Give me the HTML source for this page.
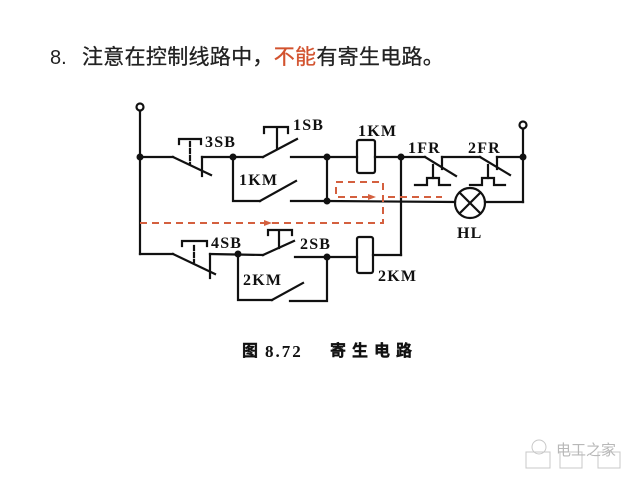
<!DOCTYPE html>
<html><head><meta charset="utf-8"><style>
html,body{margin:0;padding:0;background:#fff;}
svg{display:block;}
.lbl{font-family:"Liberation Serif",serif;font-weight:bold;font-size:16px;letter-spacing:1.2px;fill:#111;}
</style></head><body>
<svg width="640" height="480" viewBox="0 0 640 480" xmlns="http://www.w3.org/2000/svg">
<rect width="640" height="480" fill="#fff"/>
<!-- Title -->
<text x="50" y="64" font-family="Liberation Sans, sans-serif" font-size="20" fill="#222">8.</text>
<text x="82" y="64" font-family="Liberation Sans, 'Noto Sans CJK SC', sans-serif" font-size="21" letter-spacing="0.3" fill="#222" stroke="#222" stroke-width="0.3">注意在控制线路中，<tspan fill="#d2522e" stroke="#d2522e">不能</tspan>有寄生电路。</text>

<g stroke="#111" stroke-width="2.2" fill="none" stroke-linecap="square">
  <!-- left rail -->
  <circle cx="140" cy="107" r="3.5"/>
  <line x1="140" y1="111" x2="140" y2="254"/>
  <!-- row1 3SB NC -->
  <line x1="140" y1="157" x2="173" y2="157"/>
  <line x1="173" y1="157" x2="211" y2="175"/>
  <line x1="202" y1="157" x2="202" y2="176"/>
  <line x1="202" y1="157" x2="263" y2="157"/>
  <line x1="190" y1="142" x2="190" y2="164" stroke-dasharray="4 3"/>
  <polyline points="179,144 179,139 201,139 201,144"/>
  <!-- 1SB NO -->
  <line x1="263" y1="157" x2="297" y2="139"/>
  <line x1="277" y1="128" x2="277" y2="148"/>
  <polyline points="264,133 264,127 288,127 288,133"/>
  <line x1="291" y1="157" x2="357" y2="157"/>
  <!-- 1KM contact -->
  <polyline points="233,157 233,201 260,201"/>
  <line x1="260" y1="201" x2="296" y2="181"/>
  <line x1="291" y1="201" x2="327" y2="201"/>
  <line x1="327" y1="157" x2="327" y2="201"/>
  <!-- coil 1KM -->
  <rect x="357" y="140" width="18" height="33" rx="2"/>
  <line x1="375" y1="157" x2="425" y2="157"/>
  <!-- 1FR -->
  <line x1="425" y1="157" x2="456" y2="176"/>
  <line x1="442" y1="157" x2="442" y2="169"/>
  <line x1="442" y1="157" x2="480" y2="157"/>
  <polyline points="415,185 427,185 427,178 439,178 439,185 450,185"/>
  <line x1="433" y1="165" x2="433" y2="178"/>
  <!-- 2FR -->
  <line x1="480" y1="157" x2="510" y2="175"/>
  <line x1="497" y1="157" x2="497" y2="169"/>
  <line x1="497" y1="157" x2="523" y2="157"/>
  <polyline points="470,185 482,185 482,178 494,178 494,185 505,185"/>
  <line x1="488" y1="165" x2="488" y2="178"/>
  <!-- right rail -->
  <circle cx="523" cy="125" r="3.5"/>
  <line x1="523" y1="129" x2="523" y2="202"/>
  <!-- lamp row -->
  <line x1="327" y1="201" x2="455" y2="202"/>
  <circle cx="470" cy="203" r="15"/>
  <line x1="459.5" y1="192.5" x2="480.5" y2="213.5"/>
  <line x1="480.5" y1="192.5" x2="459.5" y2="213.5"/>
  <line x1="485" y1="202" x2="523" y2="202"/>
  <!-- middle vertical -->
  <line x1="401" y1="157" x2="401" y2="255"/>
  <line x1="373" y1="255" x2="401" y2="255"/>
  <!-- row2 4SB NC -->
  <line x1="140" y1="254" x2="173" y2="254"/>
  <line x1="173" y1="254" x2="215" y2="274"/>
  <line x1="210" y1="254" x2="210" y2="278"/>
  <line x1="210" y1="254" x2="263" y2="255"/>
  <line x1="194" y1="246" x2="194" y2="262" stroke-dasharray="4 3"/>
  <polyline points="182,246 182,241 207,241 207,246"/>
  <!-- 2SB NO -->
  <line x1="263" y1="255" x2="294" y2="241"/>
  <line x1="279" y1="231" x2="279" y2="248"/>
  <polyline points="268,235 268,230 292,230 292,235"/>
  <line x1="295" y1="257" x2="357" y2="257"/>
  <!-- 2KM contact -->
  <polyline points="238,254 238,300 272,300"/>
  <line x1="272" y1="300" x2="303" y2="283"/>
  <polyline points="290,301 327,301 327,257"/>
  <!-- coil 2KM -->
  <rect x="357" y="237" width="16" height="36" rx="2"/>
</g>
<!-- junction dots -->
<g fill="#111">
  <circle cx="140" cy="157" r="3.5"/>
  <circle cx="233" cy="157" r="3.5"/>
  <circle cx="327" cy="157" r="3.5"/>
  <circle cx="327" cy="201" r="3.5"/>
  <circle cx="401" cy="157" r="3.5"/>
  <circle cx="523" cy="157" r="3.5"/>
  <circle cx="238" cy="254" r="3.5"/>
  <circle cx="327" cy="257" r="3.5"/>
</g>
<!-- red dashed path -->
<g stroke="#d4603f" stroke-width="2" fill="none" stroke-dasharray="7 5">
  <polyline points="140,223 383,223 383,182 336,182 336,197 370,197"/>
  <line x1="388" y1="197" x2="442" y2="197"/>
</g>
<g fill="#d4603f">
  <polygon points="264,220 272,223 264,226"/>
  <polygon points="368,194 376,197 368,200"/>
</g>
<!-- labels -->
<text class="lbl" x="205" y="147">3SB</text>
<text class="lbl" x="293" y="130">1SB</text>
<text class="lbl" x="239" y="185">1KM</text>
<text class="lbl" x="358" y="136">1KM</text>
<text class="lbl" x="408" y="153">1FR</text>
<text class="lbl" x="468" y="153">2FR</text>
<text class="lbl" x="457" y="238">HL</text>
<text class="lbl" x="211" y="248">4SB</text>
<text class="lbl" x="300" y="249">2SB</text>
<text class="lbl" x="243" y="285">2KM</text>
<text class="lbl" x="378" y="281">2KM</text>
<!-- caption -->
<text x="242" y="356" font-family="Liberation Sans, 'Noto Sans CJK SC', sans-serif" font-weight="bold" font-size="16" fill="#111" stroke="#111" stroke-width="0.4">图</text>
<text x="265" y="357" font-family="Liberation Serif, serif" font-weight="bold" font-size="17" letter-spacing="2" fill="#111">8.72</text>
<text x="330" y="356" font-family="Liberation Sans, 'Noto Sans CJK SC', sans-serif" font-weight="bold" font-size="16" letter-spacing="6" fill="#111" stroke="#111" stroke-width="0.4">寄生电路</text>
<!-- watermark -->
<g stroke="#c8c8c8" stroke-width="1" fill="none">
  <circle cx="539" cy="447" r="7"/>
  <rect x="526" y="452" width="24" height="16"/>
  <rect x="560" y="452" width="22" height="16"/>
  <rect x="598" y="452" width="22" height="16"/>
</g>
<text x="556" y="455" font-family="Liberation Sans, 'Noto Sans CJK SC', sans-serif" font-size="15" fill="#b8b8b8">电工之家</text>
</svg>
</body></html>
